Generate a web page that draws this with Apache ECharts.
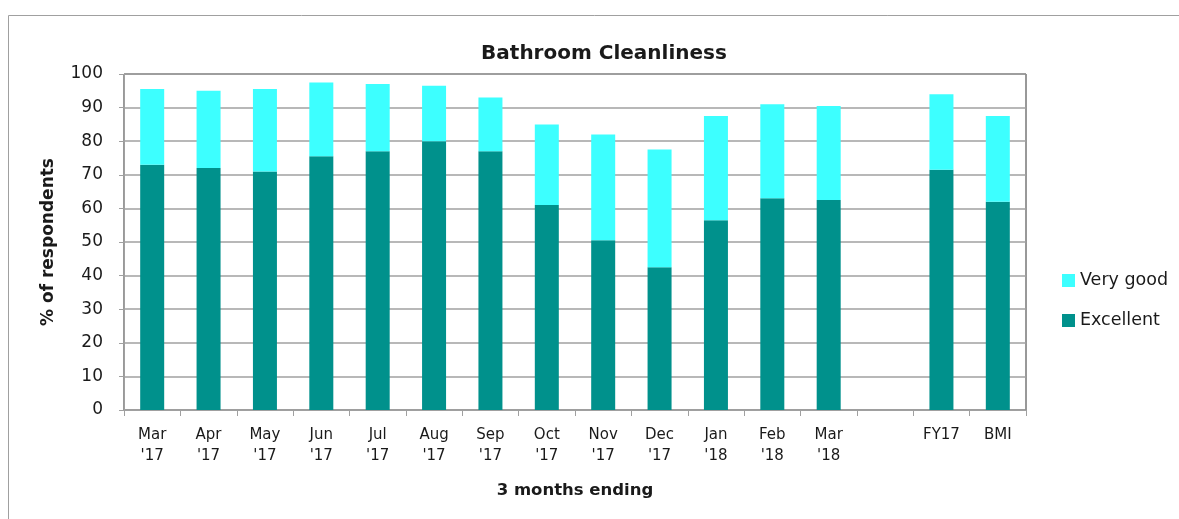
<!DOCTYPE html>
<html>
<head>
<meta charset="utf-8">
<script src="https://cdn.jsdelivr.net/npm/echarts@6/dist/echarts.min.js"></script>
<style>
  html, body { margin: 0; padding: 0; background: #fff; }
  #chart { width: 1179px; height: 519px; }
</style>
</head>
<body>
<div id="chart"></div>
<script>
// 3 months ending
const categories = ['Mar\n\'17', 'Apr\n\'17', 'May\n\'17', 'Jun\n\'17', 'Jul\n\'17', 'Aug\n\'17', 'Sep\n\'17',
  'Oct\n\'17', 'Nov\n\'17', 'Dec\n\'17', 'Jan\n\'18', 'Feb\n\'18', 'Mar\n\'18', '', 'FY17', 'BMI']
const excellent = [73, 72, 71, 75.5, 77, 80, 77, 61, 50.5, 42.5, 56.5, 63, 62.5, null, 71.5, 62]
const veryGood = [22.5, 23, 24.5, 22, 20, 16.5, 16, 24, 31.5, 35, 31, 28, 28, null, 22.5, 25.5]
const yTicks = { min: 0, max: 100, interval: 10 }

const FONT = 'DejaVu Sans'
const GRAY = '#a0a0a0'
const TEXT = '#1a1a1a'

const chart = echarts.init(document.getElementById('chart'))

const SERIES = {
  type: 'bar',
  stack: 'total',
  barWidth: 24,
}

const option = {
  animation: false,
  textStyle: { fontFamily: FONT, color: TEXT },
  title: {
    text: 'Bathroom Cleanliness',
    left: 599,
    top: 39,
    textAlign: 'center',
    textStyle: { fontFamily: FONT, fontSize: 20, fontWeight: 'bold', color: TEXT },
  },
  graphic: [
    {
      // 外框
      type: 'rect',
      shape: { x: 8.5, y: 15.5, width: 1300, height: 700 },
      style: { fill: 'none', stroke: GRAY, lineWidth: 1 },
      silent: true,
    },
  ],
  grid: {
    left: 124,
    right: 153,
    top: 74,
    bottom: 109,
    show: true,
    borderColor: '#333',
    borderWidth: 1,
  },
  legend: {
    orient: 'vertical',
    left: 1057,
    top: 265,
    itemWidth: 13,
    itemHeight: 13,
    itemGap: 19,
    icon: 'rect',
    data: ['Very good', 'Excellent'],
    textStyle: { fontFamily: FONT, fontSize: 17.5, lineHeight: 21, color: TEXT },
  },
  xAxis: {
    type: 'category',
    data: categories,
    name: '3 months ending',
    nameLocation: 'middle',
    nameGap: 72,
    nameTextStyle: { fontFamily: FONT, fontSize: 16.5, fontWeight: 'bold', color: TEXT },
    axisLine: { show: true, lineStyle: { color: GRAY } },
    axisTick: { show: true, interval: 0, length: 6, lineStyle: { color: GRAY } },
    axisLabel: { interval: 0, margin: 15, fontSize: 15, lineHeight: 21, color: TEXT },
  },
  yAxis: {
    type: 'value',
    ...yTicks,
    name: '% of respondents',
    nameLocation: 'middle',
    nameGap: 67,
    nameTextStyle: { fontFamily: FONT, fontSize: 17, fontWeight: 'bold', color: TEXT },
    axisLine: { show: true, lineStyle: { color: GRAY } },
    axisTick: { show: true, length: 5, lineStyle: { color: GRAY } },
    axisLabel: { margin: 21, fontSize: 17, color: TEXT },
    splitLine: { show: true, lineStyle: { color: GRAY, width: 1.5 } },
  },
  series: [
    { ...SERIES, name: 'Excellent', data: excellent, itemStyle: { color: '#00918C' } },
    { ...SERIES, name: 'Very good', data: veryGood, itemStyle: { color: '#3DFFFF' } },
  ],
}

chart.setOption(option)
</script>
</body>
</html>
